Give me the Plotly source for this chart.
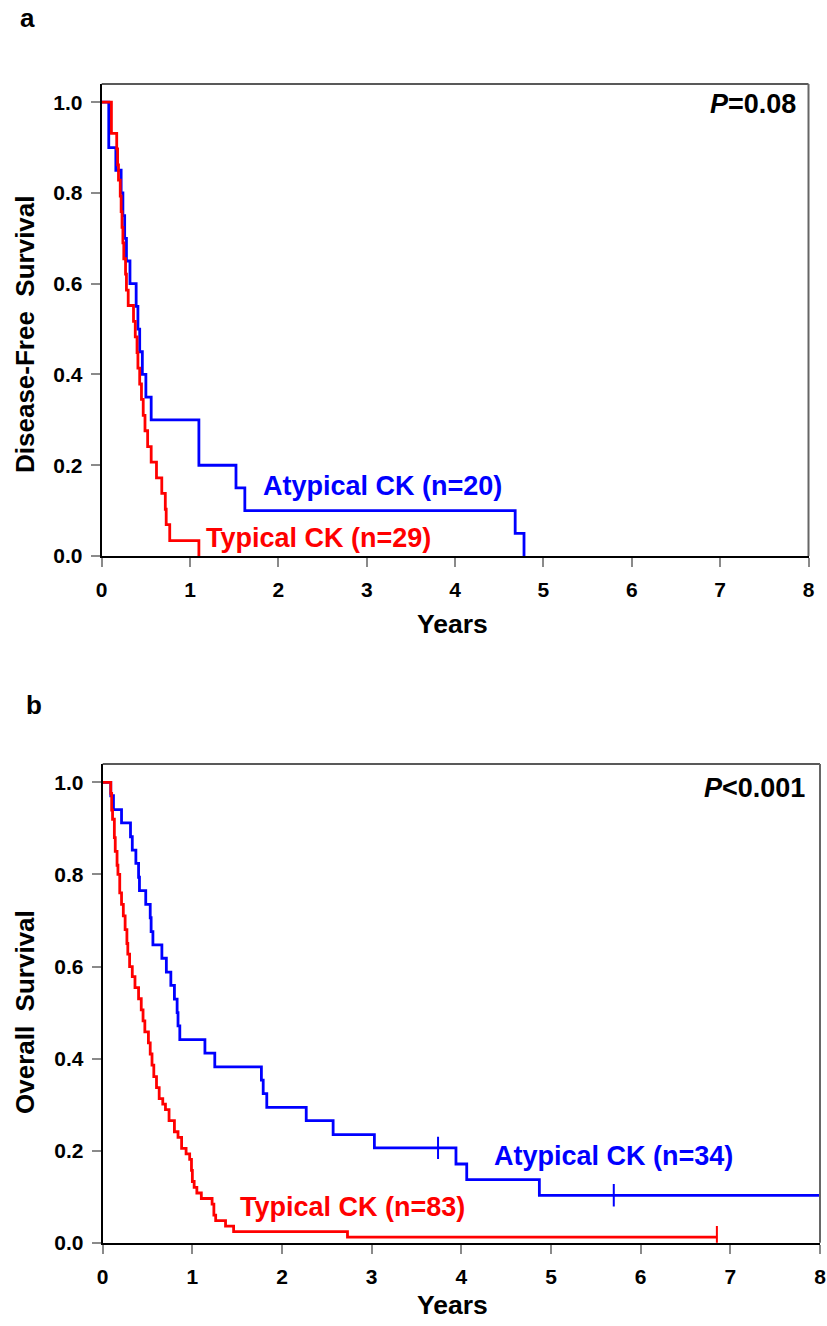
import plotly.graph_objects as go

# ---------- Panel a: Disease-free survival ----------
a_atyp_t = [0, 0.08, 0.16, 0.22, 0.24, 0.26, 0.28, 0.32, 0.39, 0.41, 0.43, 0.46, 0.50, 0.56, 1.10, 1.52, 1.62, 4.68, 4.78]
a_atyp_s = [1.0, 0.90, 0.85, 0.80, 0.75, 0.70, 0.65, 0.60, 0.55, 0.50, 0.45, 0.40, 0.35, 0.30, 0.20, 0.15, 0.10, 0.05, 0.0]

a_typ_t = [0, 0.11, 0.17, 0.18, 0.19, 0.21, 0.22, 0.23, 0.24, 0.25, 0.27, 0.28, 0.30, 0.36, 0.38,
           0.40, 0.41, 0.43, 0.45, 0.47, 0.49, 0.52, 0.56, 0.62, 0.68, 0.72, 0.73, 0.77, 1.10]
a_typ_s = [1.0, 0.931, 0.897, 0.862, 0.828, 0.793, 0.759, 0.724, 0.690, 0.655, 0.621, 0.586, 0.552, 0.517, 0.483,
           0.448, 0.414, 0.379, 0.345, 0.310, 0.276, 0.241, 0.207, 0.172, 0.138, 0.103, 0.069, 0.034, 0.0]

# ---------- Panel b: Overall survival ----------
b_atyp_t = [0, 0.09, 0.12, 0.21, 0.31, 0.33, 0.37, 0.40, 0.41, 0.48, 0.53, 0.54, 0.56, 0.66, 0.71, 0.76, 0.80,
            0.83, 0.84, 0.86, 1.14, 1.25, 1.77, 1.79, 1.83, 2.27, 2.57, 3.03, 3.94, 4.06, 4.87, 8.0]
b_atyp_s = [1.0, 0.971, 0.941, 0.912, 0.882, 0.853, 0.824, 0.794, 0.765, 0.735, 0.706, 0.676, 0.647, 0.618, 0.588, 0.559, 0.529,
            0.500, 0.471, 0.441, 0.412, 0.382, 0.353, 0.324, 0.294, 0.265, 0.235, 0.206, 0.171, 0.137, 0.103, 0.103]
b_atyp_cens_t = [3.74, 5.70]
b_atyp_cens_s = [0.206, 0.103]

b_typ_t = [0, 0.09, 0.10, 0.11, 0.13, 0.14, 0.16, 0.17, 0.19, 0.21, 0.23, 0.25, 0.27, 0.28, 0.30, 0.33, 0.36,
           0.40, 0.43, 0.45, 0.47, 0.51, 0.53, 0.55, 0.57, 0.60, 0.63, 0.67, 0.70, 0.74, 0.80, 0.84, 0.88,
           0.93, 0.97, 0.99, 1.00, 1.02, 1.05, 1.10, 1.22, 1.24, 1.26, 1.37, 1.46, 2.73, 6.85]
b_typ_s = [1.0, 0.976, 0.940, 0.920, 0.880, 0.850, 0.820, 0.800, 0.760, 0.735, 0.710, 0.680, 0.650, 0.627, 0.600, 0.578, 0.554,
           0.530, 0.506, 0.482, 0.458, 0.434, 0.410, 0.386, 0.361, 0.337, 0.313, 0.301, 0.289, 0.265, 0.241, 0.229, 0.205,
           0.193, 0.181, 0.157, 0.133, 0.120, 0.108, 0.096, 0.084, 0.060, 0.048, 0.036, 0.024, 0.012, 0.012]
b_typ_cens_t = [6.85]
b_typ_cens_s = [0.012]

x_ticks = [0, 1, 2, 3, 4, 5, 6, 7, 8]
y_ticks = [0.0, 0.2, 0.4, 0.6, 0.8, 1.0]
y_ticklabels = ["0.0", "0.2", "0.4", "0.6", "0.8", "1.0"]

BLUE = "#0000FF"
RED = "#FF0000"
FONT = "Liberation Sans, Arial, sans-serif"

W, H = 827, 1326

fig = go.Figure()

def step(t, s, color, xa, ya):
    fig.add_trace(go.Scatter(x=t, y=s, mode="lines", line=dict(color=color, width=2.8, shape="hv"),
                             xaxis=xa, yaxis=ya, showlegend=False, hoverinfo="skip", cliponaxis=True))

def cens(t, s, color, xa, ya):
    fig.add_trace(go.Scatter(x=t, y=s, mode="markers",
                             marker=dict(symbol="line-ns", size=16, line=dict(color=color, width=2)),
                             xaxis=xa, yaxis=ya, showlegend=False, hoverinfo="skip"))

step(a_atyp_t, a_atyp_s, BLUE, "x", "y")
step(a_typ_t, a_typ_s, RED, "x", "y")
step(b_atyp_t, b_atyp_s, BLUE, "x2", "y2")
step(b_typ_t, b_typ_s, RED, "x2", "y2")
cens(b_atyp_cens_t, b_atyp_cens_s, BLUE, "x2", "y2")
cens(b_typ_cens_t, b_typ_cens_s, RED, "x2", "y2")

def px_x(p):
    return p / W

def px_y(p):
    return 1 - p / H

axis_common = dict(showgrid=False, zeroline=False, showline=True, linecolor="black", linewidth=2,
                   mirror=False, ticks="outside", ticklen=9, tickwidth=1.5, tickcolor="#8a8a8a",
                   automargin=False,
                   tickfont=dict(family=FONT, size=21, color="black", weight="bold"))

fig.update_layout(
    width=W, height=H, margin=dict(l=0, r=0, t=0, b=0),
    plot_bgcolor="white", paper_bgcolor="white",
    xaxis=dict(domain=[px_x(101.7), px_x(808.5)], range=[0, 8], tickvals=x_ticks, anchor="y",
               ticklabelstandoff=5, **axis_common),
    yaxis=dict(domain=[px_y(556), px_y(84)], range=[0, 1.04], tickvals=y_ticks, ticktext=y_ticklabels,
               anchor="x", ticklabelstandoff=4, **axis_common),
    xaxis2=dict(domain=[px_x(102.7), px_x(820)], range=[0, 8], tickvals=x_ticks, anchor="y2",
                ticklabelstandoff=5, **axis_common),
    yaxis2=dict(domain=[px_y(1242.7), px_y(764)], range=[0, 1.04], tickvals=y_ticks, ticktext=y_ticklabels,
                anchor="x2", ticklabelstandoff=4, **axis_common),
)

# top and right frame lines of each panel
for xa, ya in (("x", "y"), ("x2", "y2")):
    fig.add_shape(type="line", xref=xa + " domain", yref=ya + " domain", x0=0, x1=1, y0=1, y1=1,
                  line=dict(color="#222222", width=1.5))
    fig.add_shape(type="line", xref=xa + " domain", yref=ya + " domain", x0=1, x1=1, y0=0, y1=1,
                  line=dict(color="#666666", width=2))

def text(x, y, s, size, color="black", xanchor="center", yanchor="middle", angle=0):
    fig.add_annotation(x=px_x(x), y=px_y(y), xref="paper", yref="paper", text=s, showarrow=False,
                       xanchor=xanchor, yanchor=yanchor, textangle=angle,
                       font=dict(family=FONT, size=size, color=color, weight="bold"))

# Panel letters
text(27, 18, "a", 26)
text(34, 705, "b", 26)

# P values
text(798, 104, "<i>P</i>=0.08", 27, xanchor="right")
text(807, 788, "<i>P</i><0.001", 27, xanchor="right")

# Axis titles
text(452, 624, "Years", 26.5)
text(452, 1305, "Years", 26.5)
text(25, 334, "Disease-Free  Survival", 26, angle=-90)
text(25, 1012, "Overall  Survival", 26, angle=-90)

# Curve labels
text(382, 486, "Atypical CK (n=20)", 27, color=BLUE)
text(318, 538, "Typical CK (n=29)", 27, color=RED)
text(613, 1156, "Atypical CK (n=34)", 27, color=BLUE)
text(352, 1207, "Typical CK (n=83)", 27, color=RED)

fig.write_html("out.html", config={"displayModeBar": False},
               post_script="document.body.style.margin='0';document.body.style.padding='0';")
